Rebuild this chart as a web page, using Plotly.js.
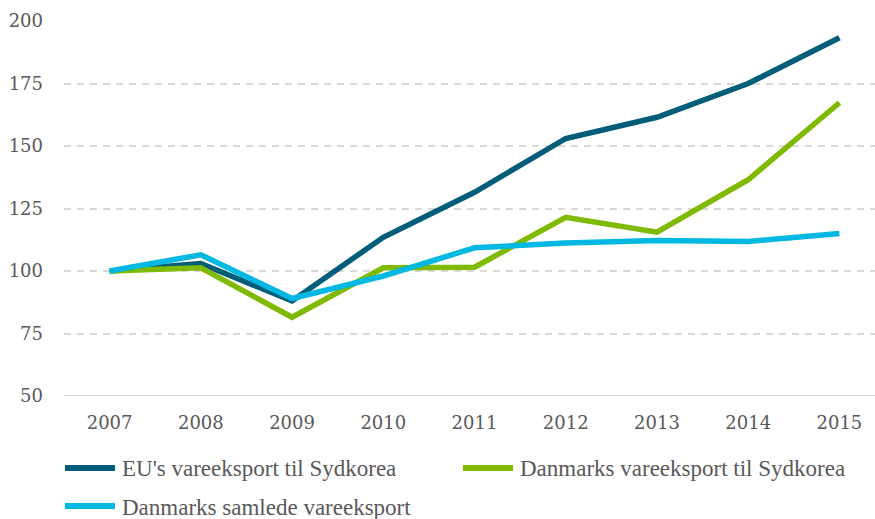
<!DOCTYPE html>
<html>
<head>
<meta charset="utf-8">
<script src="https://cdn.plot.ly/plotly-3.0.1.min.js"></script>
<style>html,body{margin:0;padding:0;background:#fff;}#chart{width:875px;height:519px;}</style>
</head>
<body>
<div id="chart"></div>
<script>
var years = ["2007","2008","2009","2010","2011","2012","2013","2014","2015"];
var euExport = [100, 103, 88, 113.5, 131.5, 153, 161.5, 175, 193.3];
var dkToKorea = [100, 101.3, 81.5, 101.3, 101.5, 121.5, 115.5, 136.5, 167.3];
var dkTotal = [100, 106.5, 89, 98, 109.3, 111.2, 112.2, 111.8, 115];
var yTicks = [50, 75, 100, 125, 150, 175, 200];
var seriesNames = ["EU's vareeksport til Sydkorea", "Danmarks vareeksport til Sydkorea", "Danmarks samlede vareeksport"];
var seriesColors = ["#005d7a", "#7fba00", "#00b8e2"];

var legendFont = "Liberation Serif";
var tickFont = "DejaVu Serif";
var values = [euExport, dkToKorea, dkTotal];
var traces = values.map(function (v, i) {
  return {x: years, y: v, name: seriesNames[i], type: "scatter", mode: "lines",
          line: {color: seriesColors[i], width: 5.5}, showlegend: false};
});

// manual legend (paper coords: plot area x 64..875, y 396..21)
var W = 811, H = 375, L = 64, T = 21;
function px(x) { return (x - L) / W; }
function py(y) { return (T + H - y) / H; }
var legPos = [[62, 468], [460, 468], [62, 506]];
var shapes = [{type: "line", xref: "paper", yref: "y", x0: 0, x1: 1, y0: 50, y1: 50,
               line: {color: "#d9d9d9", width: 2}}];
var annotations = [];
legPos.forEach(function (p, i) {
  shapes.push({type: "line", xref: "paper", yref: "paper", x0: px(p[0] + 3), x1: px(p[0] + 53),
               y0: py(p[1]), y1: py(p[1]), line: {color: seriesColors[i], width: 6}});
  annotations.push({xref: "paper", yref: "paper", x: px(p[0] + 58), y: py(p[1] + 1), xanchor: "left",
                    yanchor: "middle", showarrow: false, text: seriesNames[i],
                    font: {family: legendFont, size: 23, color: "#595959"}});
});

var layout = {
  width: 875, height: 519,
  margin: {l: 64, r: 0, t: 21, b: 123},
  paper_bgcolor: "#fff", plot_bgcolor: "#fff",
  font: {family: tickFont, color: "#595959", size: 17},
  xaxis: {type: "category", range: [-0.5, 8.39], showgrid: false, zeroline: false,
          showline: false, ticks: "", ticklabelstandoff: 14, tickfont: {family: tickFont, size: 18, color: "#595959"}},
  yaxis: {range: [50, 200], tickvals: yTicks, showgrid: true, gridcolor: "#d9d9d9", griddash: "7px,6px",
          gridwidth: 2, zeroline: false, showline: false, ticks: "", ticklabelstandoff: 20,
          tickfont: {family: tickFont, size: 18, color: "#595959"}},
  shapes: shapes,
  annotations: annotations,
  showlegend: false
};
Plotly.newPlot("chart", traces, layout, {displayModeBar: false, staticPlot: true});
</script>
</body>
</html>
